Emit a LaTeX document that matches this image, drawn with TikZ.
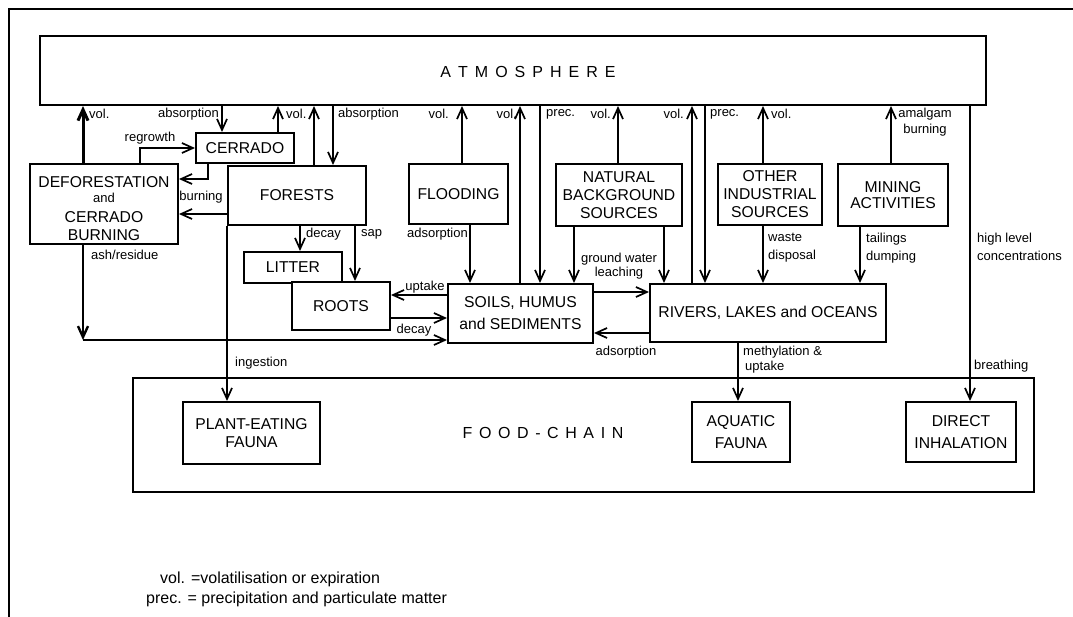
\documentclass[tikz,border=0pt]{standalone}
\usepackage{fontspec}
\setmainfont{Liberation Sans}
\usetikzlibrary{arrows.meta}
\begin{document}
\begin{tikzpicture}[x=1pt,y=-1pt,
  box/.style={draw, line width=2pt, fill=white, inner sep=0pt, align=center,
    font=\fontsize{15.7}{18}\selectfont},
  arr/.style={line width=1.7pt, -{Straight Barb[length=11pt,width=10pt]}},
  lab/.style={inner sep=0pt, font=\fontsize{13}{15}\selectfont},
  legend/.style={inner sep=0pt, anchor=west, font=\fontsize{16}{20}\selectfont}]
\useasboundingbox (0,0) rectangle (1073,616);
\draw[line width=2pt] (9,620) -- (9,9) -- (1080,9);
% helper coordinates
\foreach \x in {83,140,208,222,278,300,314,333,355,462,470,520,540,574,618,664,692,705,738,763,860,891,970}
  \coordinate (x\x) at (\x,0);
\foreach \y in {179,214,292,295,318,333,340}
  \coordinate (y\y) at (0,\y);
% boxes
\node[box, minimum width=946pt, minimum height=69pt] (atm) at (513,70.5) {};
\node[inner sep=0pt, font=\fontsize{16}{18}\selectfont] (atmlab) at (528,72)
  {A\hspace{7pt}T\hspace{7pt}M\hspace{7pt}O\hspace{7pt}S\hspace{7pt}P\hspace{7pt}H\hspace{7pt}E\hspace{7pt}R\hspace{7pt}E};
\node[box, minimum width=901pt, minimum height=114pt] (food) at (583.5,435) {};
\node[inner sep=0pt, font=\fontsize{16}{18}\selectfont] (foodlab) at (543,433)
  {F\hspace{6.6pt}O\hspace{6.6pt}O\hspace{6.6pt}D\hspace{6.6pt}-\hspace{6.6pt}C\hspace{6.6pt}H\hspace{6.6pt}A\hspace{6.6pt}I\hspace{6.6pt}N};
\node[box, minimum width=98pt, minimum height=30pt] (cer) at (245,148) {CERRADO};
\node[box, minimum width=148pt, minimum height=80pt] (def) at (104,204)
  {\rule{0pt}{21pt}DEFORESTATION\\[-3pt]{\fontsize{13}{15}\selectfont and}\\[2pt]CERRADO\\BURNING};
\node[box, minimum width=138pt, minimum height=59pt] (for) at (297,195.5) {FORESTS};
\node[box, minimum width=98pt, minimum height=31pt] (lit) at (293,267.5) {LITTER};
\node[box, minimum width=98pt, minimum height=48pt] (roo) at (341,306) {ROOTS};
\node[box, minimum width=99pt, minimum height=60pt] (flo) at (458.5,194) {FLOODING};
\node[box, minimum width=126pt, minimum height=62pt] (nat) at (619,195) {NATURAL\\BACKGROUND\\SOURCES};
\node[box, minimum width=104pt, minimum height=61pt] (oth) at (770,194.5) {OTHER\\INDUSTRIAL\\SOURCES};
\node[box, minimum width=110pt, minimum height=62pt, font=\fontsize{15.7}{16}\selectfont] (min) at (893,195) {MINING\\ACTIVITIES};
\node[box, minimum width=145pt, minimum height=59pt, font=\fontsize{15.7}{22}\selectfont] (soi) at (520.5,313.5) {SOILS, HUMUS\\and SEDIMENTS};
\node[box, minimum width=236pt, minimum height=58pt] (riv) at (768,313) {RIVERS, LAKES and OCEANS};
\node[box, minimum width=137pt, minimum height=62pt] (pla) at (251.5,433) {PLANT-EATING\\FAUNA};
\node[box, minimum width=98pt, minimum height=60pt, font=\fontsize{15.7}{22}\selectfont] (aqu) at (741,432) {AQUATIC\\FAUNA};
\node[box, minimum width=110pt, minimum height=60pt, font=\fontsize{15.7}{22}\selectfont] (dir) at (961,432) {DIRECT\\INHALATION};
% connectors
\draw[arr, line width=3pt] (def.north -| x83) -- (atm.south -| x83);
\draw[arr] (atm.south -| x222) -- (cer.north -| x222);
\draw[arr] (cer.north -| x278) -- (atm.south -| x278);
\draw[arr] (def.north -| x140) |- (cer.west);
\draw[arr] (cer.south -| x208) |- (def.east |- y179);
\draw[arr] (for.west |- y214) -- (def.east |- y214);
\draw[arr] (for.north -| x314) -- (atm.south -| x314);
\draw[arr] (atm.south -| x333) -- (for.north -| x333);
\draw[arr] (for.south -| x300) -- (lit.north -| x300);
\draw[arr] (for.south -| x355) -- (roo.north -| x355);
\draw[arr] (for.south west) -- (pla.north -| for.south west);
\draw[arr, line width=2.4pt] (def.south -| x83) -- (y340 -| x83);
\draw[arr] (y340 -| x83) -- (soi.west |- y340);
\draw[arr] (soi.west |- y295) -- (roo.east |- y295);
\draw[arr] (roo.east |- y318) -- (soi.west |- y318);
\draw[arr] (flo.north -| x462) -- (atm.south -| x462);
\draw[arr] (flo.south -| x470) -- (soi.north -| x470);
\draw[arr] (soi.north -| x520) -- (atm.south -| x520);
\draw[arr] (atm.south -| x540) -- (soi.north -| x540);
\draw[arr] (nat.north -| x618) -- (atm.south -| x618);
\draw[arr] (nat.south -| x574) -- (soi.north -| x574);
\draw[arr] (nat.south -| x664) -- (riv.north -| x664);
\draw[arr] (soi.east |- y292) -- (riv.west |- y292);
\draw[arr] (riv.west |- y333) -- (soi.east |- y333);
\draw[arr] (riv.north -| x692) -- (atm.south -| x692);
\draw[arr] (atm.south -| x705) -- (riv.north -| x705);
\draw[arr] (oth.north -| x763) -- (atm.south -| x763);
\draw[arr] (oth.south -| x763) -- (riv.north -| x763);
\draw[arr] (min.north -| x891) -- (atm.south -| x891);
\draw[arr] (min.south -| x860) -- (riv.north -| x860);
\draw[arr] (atm.south -| x970) -- (dir.north -| x970);
\draw[arr] (riv.south -| x738) -- (aqu.north -| x738);
% labels
\node[lab, anchor=west] (l1) at (89,114) {vol.};
\node[lab, anchor=east] (l2) at (219,114) {absorption};
\node[lab, anchor=west] (l3) at (286,114) {vol.};
\node[lab] (l4) at (150,138) {regrowth};
\node[lab] (l5) at (201,197) {burning};
\node[lab, anchor=west] (l6) at (338,114) {absorption};
\node[lab, anchor=east] (l7) at (449,114) {vol.};
\node[lab, anchor=east] (l8) at (517,114) {vol.};
\node[lab, anchor=west] (l9) at (546,114) {prec.};
\node[lab, anchor=east] (l10) at (611,114) {vol.};
\node[lab, anchor=east] (l11) at (684,114) {vol.};
\node[lab, anchor=west] (l12) at (710,114) {prec.};
\node[lab, anchor=west] (l13) at (771,114) {vol.};
\node[lab, align=center, font=\fontsize{13}{16}\selectfont] (l14) at (925,122) {amalgam\\burning};
\node[lab, anchor=west] (l15) at (306,234) {decay};
\node[lab, anchor=west] (l16) at (361,234) {sap};
\node[lab, anchor=east] (l17) at (468,234) {adsorption};
\node[lab, align=center, font=\fontsize{13}{14}\selectfont] (l18) at (619,266) {ground water\\leaching};
\node[lab, align=left, anchor=west, font=\fontsize{13}{18}\selectfont] (l19) at (768,248) {waste\\disposal};
\node[lab, align=left, anchor=west, font=\fontsize{13}{18}\selectfont] (l20) at (866,248) {tailings\\dumping};
\node[lab, align=left, anchor=west, font=\fontsize{13}{18}\selectfont] (l21) at (977,247) {high level\\concentrations};
\node[lab, anchor=west] (l22) at (91,255) {ash/residue};
\node[lab] (l23) at (425,287) {uptake};
\node[lab] (l24) at (414,330) {decay};
\node[lab] (l25) at (626,352) {adsorption};
\node[lab, anchor=west] (l26) at (235,363) {ingestion};
\node[lab, align=left, anchor=west, font=\fontsize{13}{15}\selectfont] (l27) at (743,360) {methylation \&\\\hspace{2pt}uptake};
\node[lab, anchor=west] (l28) at (974,366) {breathing};
% legend
\node[legend] (leg1) at (160,579) {vol. =volatilisation or expiration};
\node[legend] (leg2) at (146,599) {prec. = precipitation and particulate matter};
\end{tikzpicture}
\end{document}
